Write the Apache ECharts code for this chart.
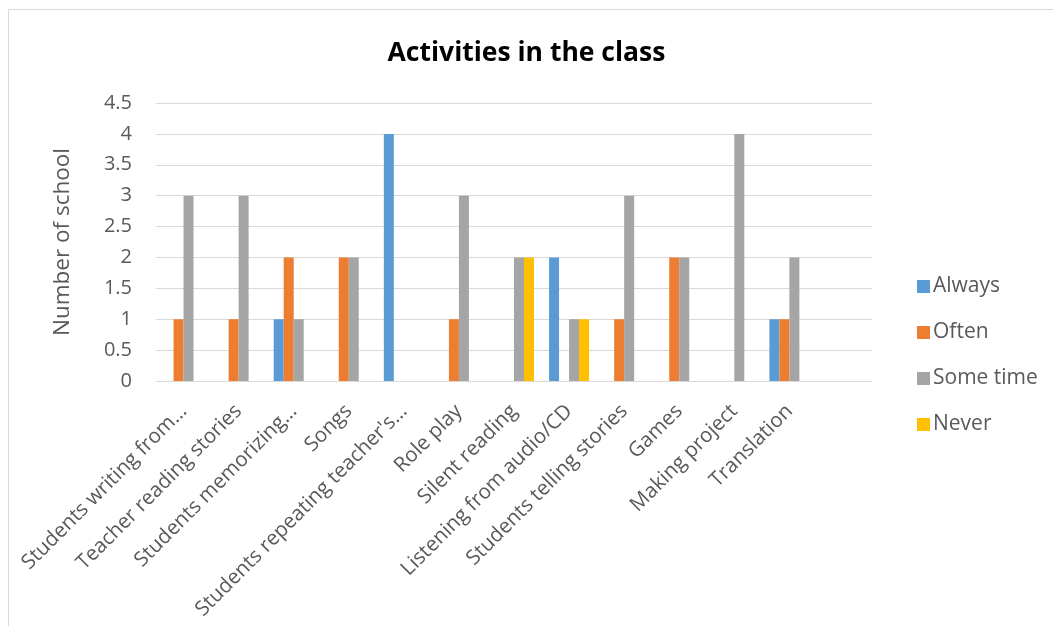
<!DOCTYPE html>
<html>
<head>
<meta charset="utf-8">
<script src="https://cdn.jsdelivr.net/npm/echarts@6/dist/echarts.min.js"></script>
<style>
html,body{margin:0;padding:0;background:#fff;overflow:hidden;}
#c{position:absolute;left:0;top:0;width:1053px;height:626px;}
#frame{position:absolute;left:8px;top:9px;width:2000px;height:2000px;border:1px solid #d9d9d9;pointer-events:none;}
</style>
</head>
<body>
<div id="frame"></div>
<div id="c"></div>
<script>
const categories = ["Students writing from…","Teacher reading stories","Students memorizing…","Songs","Students repeating teacher's…","Role play","Silent reading","Listening from audio/CD","Students telling stories","Games","Making project","Translation",""];
const seriesNames = ["Always","Often","Some time","Never"];
const always   = [0,0,1,0,4,0,0,2,0,0,0,1];
const often    = [1,1,2,2,0,1,0,0,1,2,0,1];
const someTime = [3,3,1,2,0,3,2,1,3,2,4,2];
const never    = [0,0,0,0,0,0,2,1,0,0,0,0];
const yTicks = {min:0,max:4.5,interval:0.5};
const colors = ["#5B9BD5","#ED7D31","#A5A5A5","#FFC000"];
const values = [always, often, someTime, never];

const FONT = "Open Sans";
const chart = echarts.init(document.getElementById('c'));
chart.setOption({
  animation:false,
  color:colors,
  textStyle:{fontFamily:FONT},
  title:{text:"Activities in the class",left:'center',top:35,
    textStyle:{fontFamily:FONT,fontSize:26.5,fontWeight:'bold',color:'#000'}},
  legend:{orient:'vertical',left:912,top:271,itemWidth:13,itemHeight:13,itemGap:25,
    icon:'rect',data:seriesNames,
    textStyle:{fontFamily:FONT,fontSize:21,color:'#595959',lineHeight:20,padding:[0,0,0,-2]}},
  grid:{left:156,right:181,top:103,bottom:245,containLabel:false},
  xAxis:{type:'category',data:categories,
    axisLine:{lineStyle:{color:'#D9D9D9',width:1}},
    axisTick:{show:false},
    axisLabel:{rotate:45,interval:0,fontSize:20.5,color:'#595959',fontFamily:FONT,margin:27}},
  yAxis:{type:'value',min:yTicks.min,max:yTicks.max,interval:yTicks.interval,
    name:"Number of school",nameLocation:'middle',nameGap:82,
    nameTextStyle:{fontSize:22.5,color:'#595959',fontFamily:FONT},
    axisLine:{show:false},axisTick:{show:false},
    axisLabel:{fontSize:20,color:'#595959',fontFamily:FONT,margin:24},
    splitLine:{lineStyle:{color:'#D9D9D9',width:1}}},
  series:seriesNames.map((n,i)=>({name:n,type:'bar',data:values[i],barGap:'0%',barWidth:10,barCategoryGap:'27%'}))
});
</script>
</body>
</html>
